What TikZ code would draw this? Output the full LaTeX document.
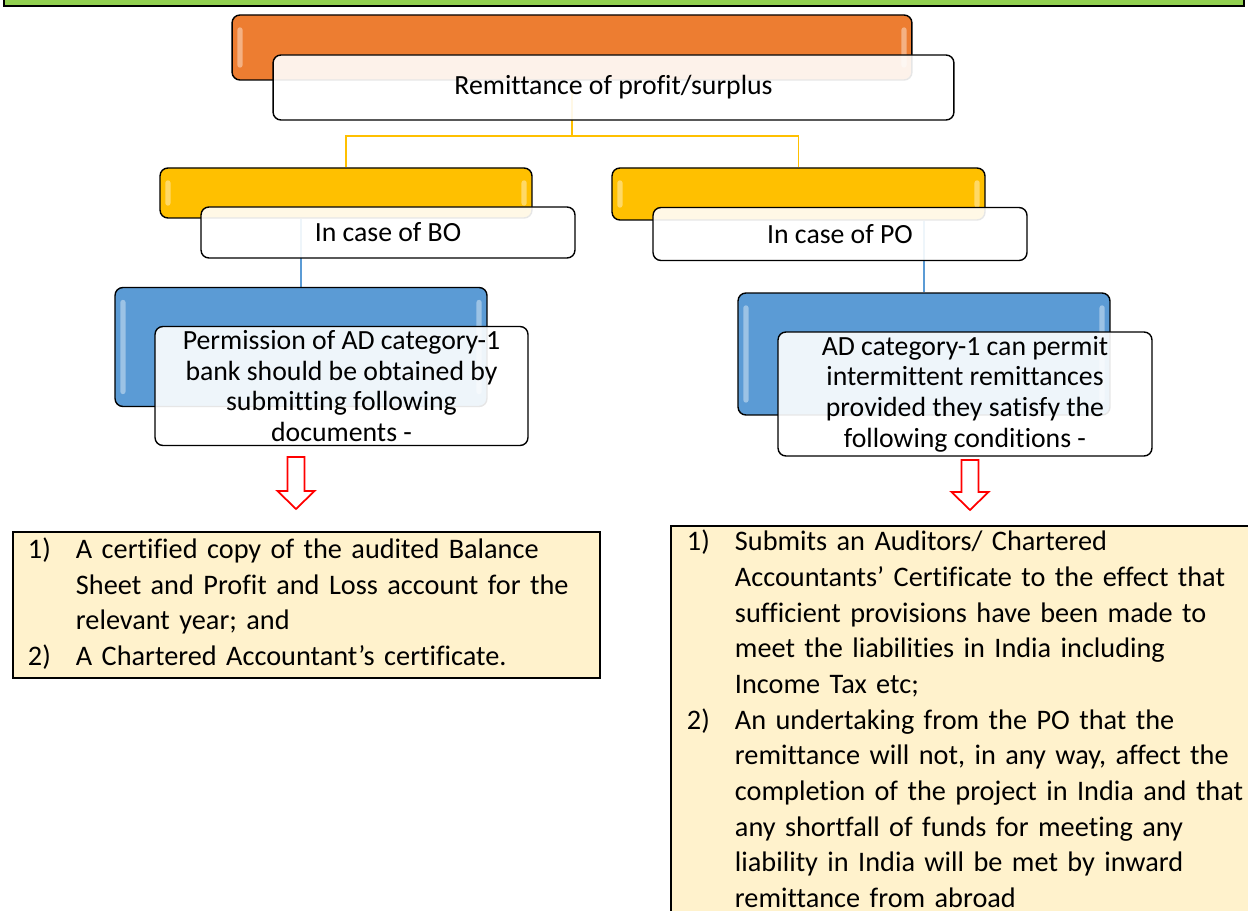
\documentclass[tikz,border=0pt]{standalone}
\usepackage{fontspec}
\setmainfont{Carlito}[Ligatures={TeX,NoCommon}]
\usepackage{xcolor}
\usepackage{tikz}
\usetikzlibrary{positioning,calc,backgrounds}
\definecolor{sbgreen}{HTML}{92D050}
\definecolor{sborange}{HTML}{ED7D31}
\definecolor{sbyellow}{HTML}{FFC000}
\definecolor{sbblue}{HTML}{5B9BD5}
\definecolor{sbcream}{HTML}{FFF2CC}

\begin{document}
\begin{tikzpicture}[x=0.02cm, y=-0.02cm,
    backbox/.style={draw, rounded corners=4.5pt, line width=0.8pt, inner sep=0pt,
        path picture={
            \fill[white, opacity=.4, rounded corners=1.5pt]
                ($(path picture bounding box.north west)+(3pt,-7pt)$) rectangle
                ($(path picture bounding box.south west)+(6pt,7pt)$)
                ($(path picture bounding box.north east)+(-6pt,-7pt)$) rectangle
                ($(path picture bounding box.south east)+(-3pt,7pt)$);
        }},
    frontbox/.style={draw, rounded corners=4.5pt, line width=0.8pt, fill=white,
        fill opacity=0.9, text opacity=1, align=center, inner xsep=2pt, inner ysep=0pt,
        font=\fontsize{15.8}{17.4}\selectfont},
    listbox/.style={draw, line width=1.1pt, fill=sbcream, anchor=north west,
        align=left, font=\fontsize{16.1}{20.3}\selectfont},
    yline/.style={sbyellow, line width=0.9pt},
    bline/.style={sbblue, line width=0.9pt},
    downarrow/.style={draw=red, line width=1pt, fill=white, line join=miter},
]
\useasboundingbox (0,0) rectangle (1248,911);

% green band cut by the top edge
\node[draw, line width=1.2pt, fill=sbgreen, minimum width=24.8cm, minimum height=0.8cm,
    inner sep=0pt] (band) at (624,-14) {};

% top tier
\node[backbox, fill=sborange, minimum width=13.6cm, minimum height=1.3cm] (orange) at (572,47.5) {};
\node[frontbox, minimum width=13.62cm, minimum height=1.3cm] (title) at (613.5,87.5)
    {\raisebox{-1.5pt}{Remittance of profit/surplus}};

% BO and PO tiers
\node[backbox, fill=sbyellow, minimum width=7.44cm, minimum height=1.0cm] (ybo) at (346,193) {};
\node[frontbox, minimum width=7.48cm, minimum height=1.02cm] (wbo) at (388,232.5)
    {\raisebox{-1pt}{In case of BO}};
\node[backbox, fill=sbyellow, minimum width=7.46cm, minimum height=1.04cm] (ypo) at (798.5,194) {};
\node[frontbox, minimum width=7.48cm, minimum height=1.06cm] (wpo) at (840,234)
    {\raisebox{-1pt}{In case of PO}};

\node[backbox, fill=sbblue, minimum width=7.44cm, minimum height=2.38cm] (bbo) at (301,347) {};
\node[frontbox, minimum width=7.46cm, minimum height=2.38cm] (tbo) at (341.5,386)
    {Permission of AD category-1\\bank should be obtained by\\submitting following\\documents -};
\node[backbox, fill=sbblue, minimum width=7.44cm, minimum height=2.44cm] (bpo) at (924,354) {};
\node[frontbox, minimum width=7.48cm, minimum height=2.48cm] (tpo) at (965,394)
    {AD category-1 can permit\\intermittent remittances\\provided they satisfy the\\following conditions -};

% connectors behind the boxes
\begin{scope}[on background layer]
\coordinate (fork) at (572,136);
\draw[yline] (orange.south) -- (fork) -| (ybo.north);
\draw[yline] (fork) -| (ypo.north);
\draw[bline] (bbo.north) -- (bbo.north |- ybo.south);
\draw[bline] (bpo.north) -- (bpo.north |- ypo.south);
\end{scope}

% hollow red arrows
\coordinate (abo) at (296,457);
\draw[downarrow] ($(abo)+(-8.5,0)$) -- ++(17,0) -- ++(0,34) -- ++(10,0)
    -- ++(-18.5,18) -- ++(-18.5,-18) -- ++(10,0) -- cycle;
\coordinate (apo) at (970,460);
\draw[downarrow] ($(apo)+(-8.5,0)$) -- ++(17,0) -- ++(0,32) -- ++(10,0)
    -- ++(-18.5,18) -- ++(-18.5,-18) -- ++(10,0) -- cycle;

% document lists
\node[listbox, inner xsep=0.3cm, inner ysep=0.03cm, text width=11.14cm,
    minimum height=2.92cm] (bolist) at (12,531) {\noindent
    \begin{tabular}{@{}p{0.96cm}@{}l@{}}
    1) & A certified copy of the audited Balance\\
       & Sheet and Profit and Loss account for the\\
       & relevant year; and\\
    2) & A Chartered Accountant's certificate.
    \end{tabular}};
\node[listbox, inner xsep=0.32cm, inner ysep=0pt, text width=12cm] (polist) at (670,525) {\noindent
    \begin{tabular}{@{}p{0.96cm}@{}l@{}}
    1) & Submits an Auditors/ Chartered\\
       & Accountants' Certificate to the effect that\\
       & sufficient provisions have been made to\\
       & meet the liabilities in India including\\
       & Income Tax etc;\\
    2) & An undertaking from the PO that the\\
       & remittance will not, in any way, affect the\\
       & completion of the project in India and that\\
       & any shortfall of funds for meeting any\\
       & liability in India will be met by inward\\
       & remittance from abroad
    \end{tabular}};

\end{tikzpicture}
\end{document}
